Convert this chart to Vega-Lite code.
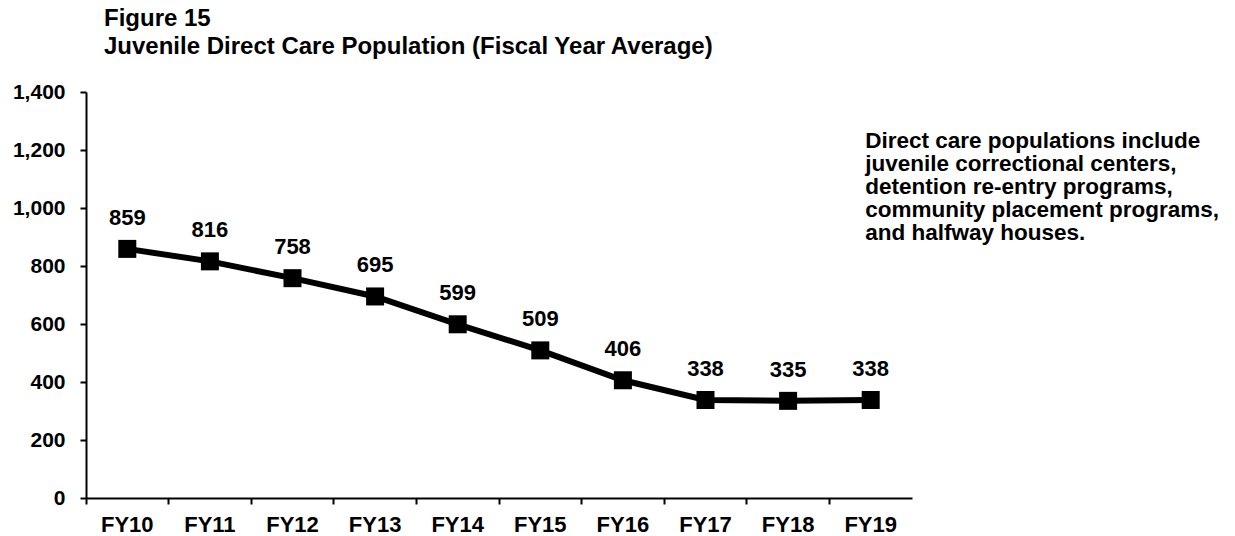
{
  "$schema": "https://vega.github.io/schema/vega-lite/v6.json",
  "width": 826,
  "height": 406,
  "autosize": {"type": "none"},
  "padding": {"left": 86, "top": 92, "right": 323, "bottom": 38},
  "background": "white",
  "config": {
    "view": {"stroke": null},
    "font": "Liberation Sans"
  },
  "title": {
    "text": ["Figure 15", "Juvenile Direct Care Population (Fiscal Year Average)"],
    "anchor": "start",
    "frame": "group",
    "dx": 18,
    "offset": 3,
    "fontSize": 24,
    "lineHeight": 28,
    "font": "Liberation Sans",
    "fontWeight": "bold",
    "color": "black",
    "baseline": "alphabetic"
  },
  "data": {
    "values": [
      {"year": "FY10", "pop": 859},
      {"year": "FY11", "pop": 816},
      {"year": "FY12", "pop": 758},
      {"year": "FY13", "pop": 695},
      {"year": "FY14", "pop": 599},
      {"year": "FY15", "pop": 509},
      {"year": "FY16", "pop": 406},
      {"year": "FY17", "pop": 338},
      {"year": "FY18", "pop": 335},
      {"year": "FY19", "pop": 338}
    ]
  },
  "layer": [
    {
      "mark": {"type": "line", "color": "black", "strokeWidth": 6},
      "encoding": {
        "x": {
          "field": "year",
          "type": "ordinal",
          "sort": null,
          "scale": {"type": "band", "paddingInner": 0, "paddingOuter": 0},
          "axis": {
            "title": null,
            "labelAngle": 0,
            "bandPosition": 0,
            "domainColor": "black",
            "domainWidth": 2,
            "tickColor": "black",
            "tickWidth": 2,
            "tickSize": 6,
            "labelFont": "Liberation Sans",
            "labelFontSize": 22,
            "labelFontWeight": "bold",
            "labelColor": "black",
            "labelPadding": 10
          }
        },
        "y": {
          "field": "pop",
          "type": "quantitative",
          "scale": {"domain": [0, 1400], "nice": false, "zero": true},
          "axis": {
            "title": null,
            "values": [0, 200, 400, 600, 800, 1000, 1200, 1400],
            "grid": false,
            "format": ",d",
            "domainColor": "black",
            "domainWidth": 2,
            "tickColor": "black",
            "tickWidth": 2,
            "tickSize": 6,
            "labelFont": "Liberation Sans",
            "labelFontSize": 21,
            "labelFontWeight": "bold",
            "labelColor": "black",
            "labelPadding": 15
          }
        }
      }
    },
    {
      "mark": {"type": "point", "shape": "square", "filled": true, "color": "black", "size": 324, "opacity": 1},
      "encoding": {
        "x": {"field": "year", "type": "ordinal", "sort": null},
        "y": {"field": "pop", "type": "quantitative"}
      }
    },
    {
      "mark": {
        "type": "text",
        "font": "Liberation Sans",
        "fontSize": 22,
        "fontWeight": "bold",
        "color": "black",
        "baseline": "alphabetic",
        "dy": -24
      },
      "encoding": {
        "x": {"field": "year", "type": "ordinal", "sort": null},
        "y": {"field": "pop", "type": "quantitative"},
        "text": {"field": "pop", "type": "quantitative"}
      }
    },
    {
      "data": {"values": [{"note": "annotation"}]},
      "mark": {
        "type": "text",
        "text": ["Direct care populations include", "juvenile correctional centers,", "detention re-entry programs,", "community placement programs,", "and halfway houses."],
        "font": "Liberation Sans",
        "fontSize": 22.5,
        "fontWeight": "bold",
        "color": "black",
        "align": "left",
        "baseline": "top",
        "lineHeight": 23,
        "dx": -5.5
      },
      "encoding": {
        "x": {"datum": "FY19", "type": "ordinal"},
        "y": {"datum": 1270, "type": "quantitative"}
      }
    }
  ]
}
